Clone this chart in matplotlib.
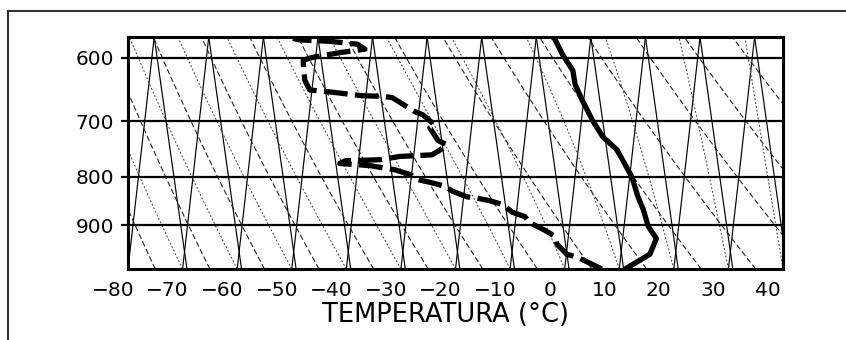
import numpy as np
import matplotlib
matplotlib.use("Agg")
import matplotlib.pyplot as plt
from matplotlib.transforms import ScaledTranslation
from matplotlib.lines import Line2D

# ---------------- data ----------------
temp_p = [1000, 965, 947, 929, 902, 866, 839, 800, 787, 750, 727, 700, 665, 640, 619, 597, 574, 570]
temp_t = [11.1, 15.6, 16.2, 16.8, 15.3, 14.4, 13.4, 12.3, 11.6, 9.6, 7.0, 5.2, 3.2, 1.9, 1.5, -0.3, -1.8, -2.3]

dew_p = [1000, 986, 972, 965, 942, 924, 911, 894, 881, 872, 856, 848, 842, 840, 829, 819,
         811, 806, 796, 787, 779, 775, 770, 768, 762, 759, 750, 741, 733, 720, 711, 706,
         689, 684, 661, 659, 658, 652, 649, 634, 619, 604, 600, 593, 588, 581, 577, 575, 573]
dew_t = [6.8, 4.6, 2.3, 0.4, -1.4, -1.8, -3.6, -6.4, -7.3, -9.6, -11.3, -13.7, -16.4, -17.9, -20.5, -21.9,
         -24.7, -26.9, -28.3, -31.1, -35.7, -41.2, -40.2, -33.8, -30.2, -24.3, -22.8, -21.6, -23.2, -24.1, -24.7, -23.8,
         -26.0, -27.4, -31.6, -33.3, -37.1, -43.0, -46.7, -47.6, -47.8, -47.9, -46.3, -41.2, -36.6, -38.0, -43.0, -48.5, -49.8]

x_ticks = [-80, -70, -60, -50, -40, -30, -20, -10, 0, 10, 20, 30, 40]
y_ticks = [600, 700, 800, 900]
x_label = "TEMPERATURA (°C)"

# background families (base temperatures at the bottom of the diagram)
isotherm_base = list(range(-80, 41, 10))
mixing_base = list(range(-70, 51, 10))
dry_base = list(range(-75, 86, 10))
moist_base = list(range(-80, 51, 10))

P_BOT, P_TOP = 1000.0, 571.0
T_MIN, T_MAX = -80, 40

# ---------------- figure ----------------
W, H = 846, 340
fig = plt.figure(figsize=(W / 100, H / 100), dpi=100)
fig.patch.set_facecolor("white")
ax = fig.add_axes([128 / W, 71 / H, 655 / W, 232 / H])
ax.set_yscale("log")
ax.set_xlim(T_MIN, T_MAX)
ax.set_ylim(P_BOT, P_TOP)

pp = np.geomspace(P_BOT, P_TOP, 200)
frac = np.log(P_BOT / pp) / np.log(P_BOT / P_TOP)
SKEW = 4.8  # deg shift of an isotherm over the full height
STEEP = 0.78  # visual compression of the adiabats


def xs(T, p):
    f = np.log(P_BOT / p) / np.log(P_BOT / P_TOP)
    return T + SKEW * f


# isotherms (up-right)
for t0 in isotherm_base:
    ax.plot(xs(np.full_like(pp, t0), pp), pp, color="black", lw=0.85, zorder=1)

# mixing-ratio-like lines (up-left)
for t0 in mixing_base:
    ax.plot(t0 + 0.8 - 6.0 * frac, pp, color="black", lw=0.85, zorder=1)

# dry adiabats
for t0 in dry_base:
    T = (t0 + 273.15) * (pp / 1000.0) ** 0.286 - 273.15
    T = t0 + STEEP * (T - t0)
    ax.plot(xs(T, pp), pp, color="0.15", lw=0.8, dashes=(5, 2.5), zorder=1)


# moist adiabats
def moist(t0, p_arr):
    T = t0 + 273.15
    out = [T]
    Lv, Rd, cp, eps = 2.5e6, 287.0, 1005.0, 0.622
    for i in range(1, len(p_arr)):
        p = p_arr[i - 1]
        dp = p_arr[i] - p_arr[i - 1]
        es = 6.112 * np.exp(17.67 * (T - 273.15) / (T - 29.65))
        rs = eps * es / (p - es)
        dTdp = (Rd * T + Lv * rs) / (p * (cp + Lv ** 2 * rs * eps / (Rd * T ** 2)))
        T = T + dTdp * dp
        out.append(T)
    return np.array(out) - 273.15


for t0 in moist_base:
    T = moist(t0, pp)
    T = t0 + STEEP * (T - t0)
    ax.plot(xs(T, pp), pp, color="0.25", lw=0.7, dashes=(2, 2), zorder=1)

# horizontal pressure lines
for p in y_ticks:
    ax.axhline(p, color="black", lw=1.6, zorder=2)

# data
ax.plot(temp_t, temp_p, color="black", lw=3.8, solid_capstyle="round",
        solid_joinstyle="round", zorder=4)
dl, = ax.plot(dew_t, dew_p, color="black", lw=3.8, zorder=4)
dl.set_dashes([4.5, 1.4])
dl.set_dash_capstyle("butt")

# axes styling
for s in ax.spines.values():
    s.set_linewidth(2.2)
    s.set_color("black")

ax.yaxis.set_minor_locator(matplotlib.ticker.NullLocator())
ax.set_yticks(y_ticks)
ax.set_yticklabels([str(v) for v in y_ticks])
ax.tick_params(axis="y", which="major", length=5, width=1.6, direction="out",
               pad=5, labelsize=14.5)
ax.set_xticks(x_ticks)
ax.set_xticklabels([f"{v}".replace("-", "\u2212") for v in x_ticks])
ax.tick_params(axis="x", length=0, pad=9, labelsize=14.5)
off = ScaledTranslation(-15 / 100, 0, fig.dpi_scale_trans)
for lab in ax.get_xticklabels():
    lab.set_transform(lab.get_transform() + off)

fig.text(445 / W, 1 - 315 / H, x_label, ha="center", va="center", fontsize=18.5)

# outer frame (partially visible)
fig.add_artist(Line2D([8 / W, 8 / W], [0, 1 - 10.5 / H], transform=fig.transFigure,
                      color="0.2", lw=1.5))
fig.add_artist(Line2D([8 / W, 1], [1 - 10.5 / H, 1 - 10.5 / H], transform=fig.transFigure,
                      color="0.2", lw=1.5))

fig.savefig("out.png", dpi=100, facecolor="white")
